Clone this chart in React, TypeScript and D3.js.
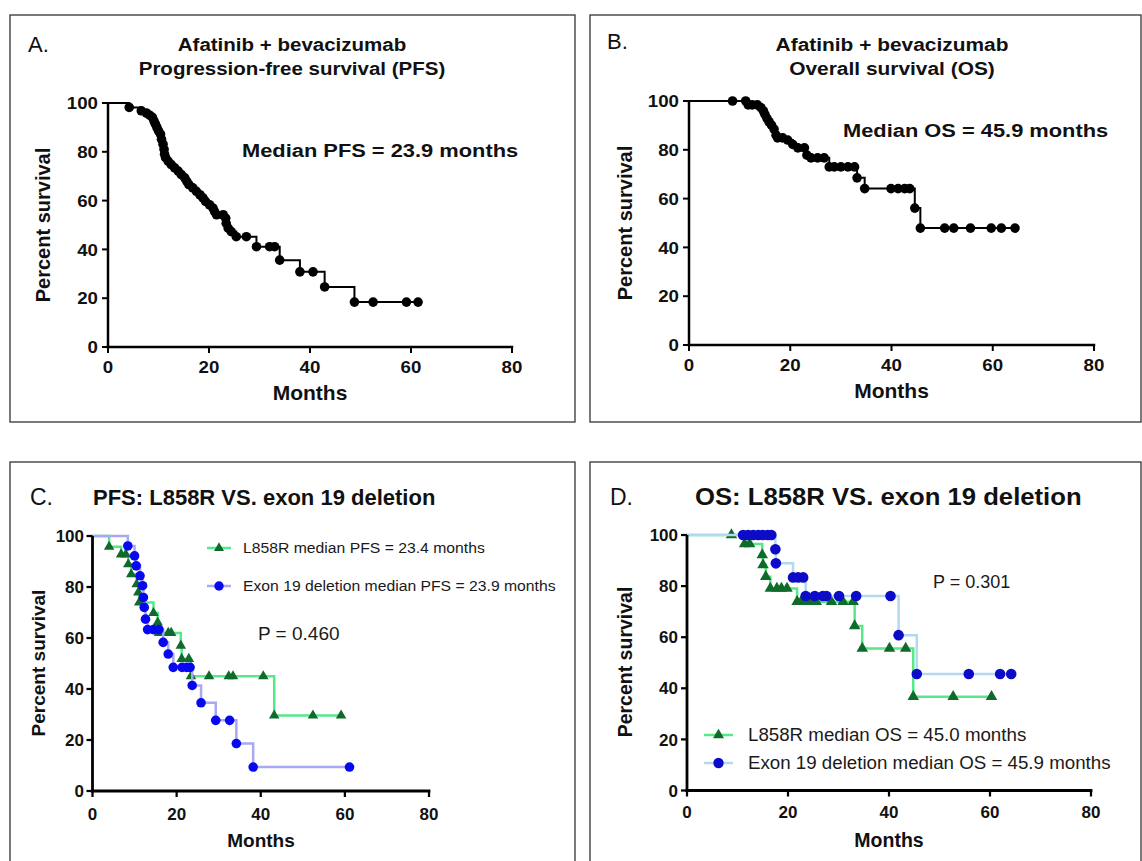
import React from 'react';
import * as d3 from 'd3';

type P = [number, number];

const FONT = '"Liberation Sans", Arial, Helvetica, sans-serif';

const monthTicks = [0, 20, 40, 60, 80];
const percentTicks = [0, 20, 40, 60, 80, 100];

// Panel A: PFS all patients (month, percent)
const pfsAll: P[] = [
  [4.2, 98.2], [6.6, 96.8], [7.6, 95.9], [8.25, 95.0], [8.8, 94.1], [9.1, 92.7], [9.4, 91.3], [9.7, 89.9],
  [10.0, 88.6], [10.4, 87.2], [10.6, 85.1], [10.9, 83.1], [11.1, 81.0], [11.2, 79.0], [11.4, 77.6], [11.9, 76.2],
  [12.5, 74.8], [13.2, 73.4], [13.9, 72.1], [14.5, 70.7], [15.2, 69.3], [15.6, 67.9], [16.0, 66.6], [16.8, 65.2],
  [17.5, 63.8], [18.2, 62.4], [18.8, 61.1], [19.3, 59.7], [20.1, 58.3], [20.8, 56.9], [21.1, 55.5], [21.5, 54.2],
  [22.8, 54.2], [23.3, 52.8], [23.4, 50.7], [23.8, 48.7], [24.4, 47.3], [25.4, 45.2], [27.4, 45.2], [29.4, 41.1],
  [32.0, 41.1], [33.0, 41.1], [34.0, 35.6], [38.0, 30.8], [40.6, 30.8], [42.9, 24.6], [48.8, 18.4], [52.5, 18.4],
  [59.1, 18.4], [61.4, 18.4],
];

// Panel B: OS all patients
const osAll: P[] = [
  [8.6, 100], [11.2, 100], [11.7, 98.4], [12.5, 98.4], [13.5, 98.4], [14.2, 97.3], [14.7, 95.9], [15.0, 94.5],
  [15.4, 92.9], [15.8, 91.5], [16.3, 90.1], [16.8, 88.5], [17.2, 86.0], [17.5, 84.9], [18.5, 84.9], [19.5, 84.0],
  [20.5, 82.2], [21.5, 80.8], [22.8, 80.8], [23.3, 77.8], [24.1, 76.7], [25.4, 76.7], [26.7, 76.7], [27.7, 73.0],
  [28.7, 73.0], [30.0, 73.0], [31.4, 73.0], [32.7, 73.0], [33.2, 68.5], [34.7, 64.1], [39.9, 64.1], [41.3, 64.1],
  [42.6, 64.1], [43.6, 64.1], [44.6, 56.1], [45.7, 47.9], [50.5, 47.9], [52.3, 47.9], [55.6, 47.9], [59.7, 47.9],
  [61.7, 47.9], [64.4, 47.9],
];

// Panel C: PFS by mutation
const pfsL858R: P[] = [
  [3.95, 95.8], [6.8, 92.8], [7.9, 92.8], [8.5, 88.9], [9.2, 85.0], [10.5, 81.1], [10.9, 77.9], [11.1, 73.9],
  [14.5, 69.8], [15.5, 66.1], [15.8, 62.0], [18.0, 62.0], [18.7, 62.0], [21.0, 57.0], [21.2, 51.8], [22.9, 51.8],
  [23.4, 45.0], [27.7, 45.0], [32.4, 45.0], [33.4, 45.0], [40.6, 45.0], [43.2, 29.6], [52.4, 29.6], [59.1, 29.6],
];
const pfsExon19: P[] = [
  [8.4, 96.1], [10.0, 92.2], [10.4, 88.3], [11.3, 84.4], [11.9, 80.5], [12.1, 75.9], [12.3, 72.0], [12.6, 67.4],
  [13.1, 63.3], [14.5, 63.3], [15.8, 63.3], [16.8, 58.3], [18.0, 53.7], [19.2, 48.5], [21.3, 48.5], [22.4, 48.5],
  [23.2, 48.5], [23.7, 41.4], [25.8, 34.6], [29.3, 27.7], [32.6, 27.7], [34.2, 18.6], [38.2, 9.4], [61.1, 9.4],
];

// Panel D: OS by mutation
const osL858R: P[] = [
  [8.8, 100], [11.4, 96.5], [12.4, 96.5], [14.9, 92.2], [15.05, 88.3], [15.6, 83.7], [16.5, 79.1], [17.8, 79.1],
  [18.7, 79.1], [19.8, 79.1], [21.8, 73.9], [22.6, 73.9], [23.6, 73.9], [24.6, 73.9], [25.6, 73.9], [28.6, 73.9],
  [30.9, 73.9], [32.9, 73.9], [33.2, 64.4], [34.7, 55.6], [40.1, 55.6], [43.3, 55.6], [44.8, 36.7], [52.7, 36.7],
  [60.3, 36.7],
];
const osExon19: P[] = [
  [11.1, 100], [12.1, 100], [13.1, 100], [14.1, 100], [15.0, 100], [16.0, 100], [16.7, 100], [17.5, 94.4],
  [17.6, 88.9], [21.0, 83.4], [22.0, 83.4], [23.0, 83.4], [23.5, 76.1], [25.3, 76.1], [26.9, 76.1], [27.6, 76.1],
  [30.1, 76.1], [33.5, 76.1], [40.3, 76.1], [41.9, 60.8], [45.5, 45.6], [55.8, 45.6], [62.0, 45.6], [64.2, 45.6],
];

const legendC = ['L858R median PFS = 23.4 months', 'Exon 19 deletion median PFS = 23.9 months'];
const legendD = ['L858R median OS = 45.0 months', 'Exon 19 deletion median OS = 45.9 months'];

type Kind = 'circle' | 'triangle';
interface SeriesDef { data: P[]; line: string; lw: number; kind: Kind; fill: string; size: number; }

function T(props: any) {
  const { x, y, size, weight = 'normal', anchor = 'start', sx = 1, rot = 0, fill = '#111', children } = props;
  return (
    <text transform={`translate(${x},${y}) rotate(${rot}) scale(${sx},1)`} fontSize={size} fontWeight={weight}
      textAnchor={anchor} fill={fill} fontFamily={FONT}>{children}</text>
  );
}

function Marker({ cx, cy, kind, fill, size }: { cx: number; cy: number; kind: Kind; fill: string; size: number }) {
  if (kind === 'circle') return <circle cx={cx} cy={cy} r={size} fill={fill} />;
  const p = d3.symbol().type(d3.symbolTriangle).size(size * size * 0.433)() as string;
  return <path d={p} transform={`translate(${cx},${cy})`} fill={fill} />;
}

function Plot(props: any) {
  const { x0, x1, y0, y1, series, tickFont, tickSx = 1, xLabBase, yLabRight, axisW = 2.5, tickLen = 6 } = props;
  const x = d3.scaleLinear().domain([0, 80]).range([x0, x1]);
  const y = d3.scaleLinear().domain([0, 100]).range([y0, y1]);
  const line = d3.line<P>().x(d => x(d[0])).y(d => y(d[1])).curve(d3.curveStepAfter);
  return (
    <g>
      {series.map((s: SeriesDef, i: number) => (
        <g key={i}>
          <path d={line([[0, 100], ...s.data]) as string} fill="none" stroke={s.line} strokeWidth={s.lw} />
          {s.data.map((d, j) => (
            <Marker key={j} cx={x(d[0])} cy={y(d[1])} kind={s.kind} fill={s.fill} size={s.size} />
          ))}
        </g>
      ))}
      <line x1={x(0)} x2={x(0)} y1={y(0) + axisW / 2} y2={y(100)} stroke="#000" strokeWidth={axisW} />
      <line x1={x(0) - axisW / 2} x2={x(80) + axisW / 2} y1={y(0)} y2={y(0)} stroke="#000" strokeWidth={axisW} />
      {percentTicks.map(v => (
        <g key={'y' + v}>
          <line x1={x(0) - tickLen} x2={x(0)} y1={y(v)} y2={y(v)} stroke="#000" strokeWidth={axisW * 0.8} />
          <T x={yLabRight} y={y(v) + tickFont * 0.36} size={tickFont} weight="bold" anchor="end" sx={tickSx}>{v}</T>
        </g>
      ))}
      {monthTicks.map(v => (
        <g key={'x' + v}>
          <line x1={x(v)} x2={x(v)} y1={y(0)} y2={y(0) + tickLen} stroke="#000" strokeWidth={axisW * 0.8} />
          <T x={x(v)} y={xLabBase} size={tickFont} weight="bold" anchor="middle" sx={tickSx}>{v}</T>
        </g>
      ))}
    </g>
  );
}

function LegendItem(props: any) {
  const { x1, x2, y, kind, fill, line, lw, size, label, textX, fontSize, sx } = props;
  return (
    <g>
      <line x1={x1} x2={x2} y1={y} y2={y} stroke={line} strokeWidth={lw} />
      <Marker cx={(x1 + x2) / 2} cy={y} kind={kind} fill={fill} size={size} />
      <T x={textX} y={y + fontSize * 0.36} size={fontSize} sx={sx} fill="#1a1a1a">{label}</T>
    </g>
  );
}

const GREEN_LINE = '#57e88a';
const GREEN_FILL = '#0e6b2a';
const BLUE_LINE_C = '#a8a8f4';
const BLUE_FILL_C = '#0808f0';
const BLUE_LINE_D = '#b3d9f2';
const BLUE_FILL_D = '#0c0cc8';

export default function App() {
  const seriesA: SeriesDef[] = [{ data: pfsAll, line: '#000', lw: 2, kind: 'circle', fill: '#000', size: 4.8 }];
  const seriesB: SeriesDef[] = [{ data: osAll, line: '#000', lw: 2, kind: 'circle', fill: '#000', size: 4.8 }];
  const seriesC: SeriesDef[] = [
    { data: pfsL858R, line: GREEN_LINE, lw: 2.5, kind: 'triangle', fill: GREEN_FILL, size: 10.5 },
    { data: pfsExon19, line: BLUE_LINE_C, lw: 2.5, kind: 'circle', fill: BLUE_FILL_C, size: 4.8 },
  ];
  const seriesD: SeriesDef[] = [
    { data: osL858R, line: GREEN_LINE, lw: 2.5, kind: 'triangle', fill: GREEN_FILL, size: 11.5 },
    { data: osExon19, line: BLUE_LINE_D, lw: 2.5, kind: 'circle', fill: BLUE_FILL_D, size: 5.3 },
  ];
  return (
    <div style={{ position: 'absolute', left: 0, top: 0 }}>
      <svg width={1142} height={861} style={{ display: 'block', background: '#fff' }}>
        <rect x={0} y={0} width={1142} height={861} fill="#fff" />
        {/* frames */}
        <rect x={10} y={15} width={565} height={407} fill="none" stroke="#333" strokeWidth={1.3} />
        <rect x={590} y={15} width={551} height={407} fill="none" stroke="#333" strokeWidth={1.3} />
        <rect x={10} y={462} width={565} height={430} fill="none" stroke="#333" strokeWidth={1.3} />
        <rect x={590} y={462} width={551} height={430} fill="none" stroke="#333" strokeWidth={1.3} />

        {/* Panel A */}
        <T x={28} y={52} size={22}>A.</T>
        <T x={292} y={51} size={19} weight="bold" anchor="middle" sx={1.08}>Afatinib + bevacizumab</T>
        <T x={292} y={75} size={19} weight="bold" anchor="middle" sx={1.08}>Progression-free survival (PFS)</T>
        <T x={242} y={157} size={19} weight="bold" sx={1.15}>Median PFS = 23.9 months</T>
        <Plot x0={108} x1={512} y0={347} y1={103} series={seriesA} tickFont={17} tickSx={1.1} xLabBase={373} yLabRight={98} />
        <T x={310} y={400} size={21} weight="bold" anchor="middle">Months</T>
        <T x={50} y={225} size={20} weight="bold" anchor="middle" rot={-90}>Percent survival</T>

        {/* Panel B */}
        <T x={607} y={49} size={22}>B.</T>
        <T x={892} y={51} size={19} weight="bold" anchor="middle" sx={1.1}>Afatinib + bevacizumab</T>
        <T x={892} y={75} size={19} weight="bold" anchor="middle" sx={1.1}>Overall survival (OS)</T>
        <T x={843} y={137} size={19} weight="bold" sx={1.15}>Median OS = 45.9 months</T>
        <Plot x0={689} x1={1094} y0={345} y1={101} series={seriesB} tickFont={17} tickSx={1.1} xLabBase={371} yLabRight={679} />
        <T x={891.5} y={398} size={21} weight="bold" anchor="middle">Months</T>
        <T x={632} y={223} size={20} weight="bold" anchor="middle" rot={-90}>Percent survival</T>

        {/* Panel C */}
        <T x={30} y={505} size={23}>C.</T>
        <T x={93} y={505} size={22} weight="bold">PFS: L858R VS. exon 19 deletion</T>
        <Plot x0={92.5} x1={429} y0={791} y1={536} series={seriesC} tickFont={17} xLabBase={820} yLabRight={84} axisW={2.8} />
        <LegendItem x1={207} x2={231} y={548} kind="triangle" fill={GREEN_FILL} line={GREEN_LINE} lw={2.5} size={10}
          label={legendC[0]} textX={243} fontSize={15} sx={1.05} />
        <LegendItem x1={207} x2={231} y={586} kind="circle" fill={BLUE_FILL_C} line={BLUE_LINE_C} lw={2.5} size={4.7}
          label={legendC[1]} textX={243} fontSize={15} sx={1.05} />
        <T x={258} y={640} size={19} fill="#1a1a1a">P = 0.460</T>
        <T x={261} y={847} size={19} weight="bold" anchor="middle">Months</T>
        <T x={45} y={663} size={19} weight="bold" anchor="middle" rot={-90}>Percent survival</T>

        {/* Panel D */}
        <T x={610} y={505} size={23}>D.</T>
        <T x={695} y={505} size={24} weight="bold" sx={1.07}>OS: L858R VS. exon 19 deletion</T>
        <Plot x0={687} x1={1091} y0={790.5} y1={535} series={seriesD} tickFont={17} xLabBase={818} yLabRight={678} axisW={2.8} />
        <T x={933} y={588} size={18} fill="#1a1a1a">P = 0.301</T>
        <LegendItem x1={704} x2={733} y={735} kind="triangle" fill={GREEN_FILL} line={GREEN_LINE} lw={2.5} size={11}
          label={legendD[0]} textX={748} fontSize={17.5} sx={1.07} />
        <LegendItem x1={704} x2={733} y={763} kind="circle" fill={BLUE_FILL_D} line={BLUE_LINE_D} lw={2.5} size={5.2}
          label={legendD[1]} textX={748} fontSize={17.5} sx={1.07} />
        <T x={889} y={847} size={19.5} weight="bold" anchor="middle">Months</T>
        <T x={632} y={662} size={19.5} weight="bold" anchor="middle" rot={-90}>Percent survival</T>
      </svg>
    </div>
  );
}
